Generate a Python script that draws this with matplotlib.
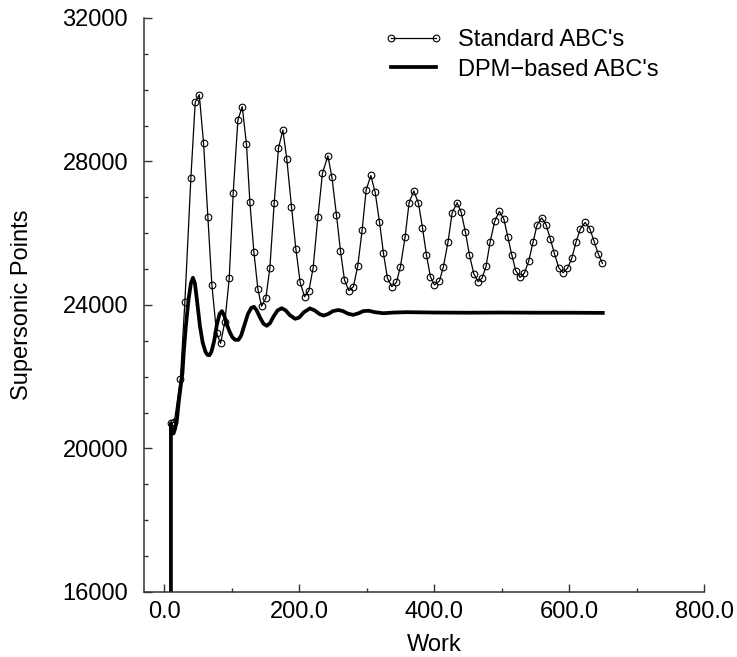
import matplotlib.pyplot as plt
from matplotlib.ticker import MultipleLocator, FormatStrFormatter

plt.rcParams['font.family'] = ['Liberation Sans', 'DejaVu Sans']

# Standard ABC's (open circles)
work_std = [9.5, 9.5, 15.0, 24.0, 30.6, 39.5, 45.9, 51.9, 58.3, 64.7, 70.6, 77.5, 83.5, 89.9,
            96.3, 102.2, 109.2, 115.6, 121.9, 126.9, 132.8, 138.8, 144.2, 150.6, 156.5,
            163.0, 169.3, 175.8, 181.7, 188.6, 195.1, 201.5, 207.9, 214.4, 220.7, 227.7,
            234.5, 242.5, 248.4, 255.3, 261.2, 267.1, 273.6, 280.4, 286.9, 293.3, 299.3,
            306.2, 312.6, 319.0, 324.9, 330.8, 337.3, 344.1, 350.1, 357.0, 362.9, 369.8,
            376.8, 382.7, 388.6, 394.5, 400.5, 407.9, 413.8, 420.7, 426.7, 434.1, 440.0,
            446.4, 452.3, 458.8, 465.2, 471.1, 477.0, 483.0, 489.9, 496.7, 503.3, 509.2,
            515.1, 521.0, 527.4, 533.8, 540.3, 546.7, 552.6, 559.5, 565.9, 572.3, 578.2,
            584.7, 591.1, 597.5, 604.0, 610.4, 616.7, 623.7, 630.7, 637.0, 643.4, 649.4]
pts_std = [0, 20700, 20740, 21950, 24090, 27550, 29650, 29860, 28510, 26440, 24560, 23230,
           22930, 23540, 24740, 27120, 29160, 29530, 28480, 26870, 25490, 24440, 23965,
           24190, 25020, 26850, 28370, 28880, 28060, 26740, 25560, 24630, 24230, 24400,
           25040, 26440, 27670, 28160, 27580, 26500, 25510, 24700, 24400, 24510, 25100,
           26090, 27210, 27610, 27140, 26320, 25440, 24750, 24510, 24630, 25070, 25900,
           26850, 27180, 26840, 26160, 25400, 24790, 24560, 24670, 25070, 25770, 26570,
           26850, 26590, 26030, 25400, 24870, 24650, 24750, 25080, 25760, 26340, 26610,
           26400, 25900, 25400, 24960, 24770, 24890, 25230, 25760, 26230, 26430, 26240,
           25840, 25440, 25040, 24900, 25020, 25300, 25760, 26120, 26300, 26130, 25780,
           25420, 25160]

# DPM-based ABC's (thick line)
work_dpm = [9.9, 9.9, 11.0, 13.8, 16.0, 18.8, 21.5, 24.5, 27.0, 29.0, 32.0, 36.0, 39.5, 42.5,
            45.5, 49.0, 53.0, 57.0, 61.0, 64.0, 67.0, 70.0, 74.0, 78.0, 82.0, 85.5, 89.0,
            93.0, 97.0, 101.0, 105.0, 110.0, 114.0, 119.0, 124.0, 129.0, 133.0, 137.0,
            142.0, 147.0, 152.0, 157.0, 162.0, 168.0, 174.0, 180.0, 186.0, 194.0, 200.0,
            207.0, 216.0, 223.0, 230.0, 236.0, 243.0, 250.0, 258.0, 265.0, 272.0, 280.0,
            288.0, 295.0, 303.0, 312.0, 325.0, 340.0, 360.0, 380.0, 400.0, 450.0, 500.0,
            550.0, 600.0, 650.0]
pts_dpm = [0, 20700, 20500, 20420, 20550, 20800, 21300, 21750, 22100, 22700, 23400, 24150,
           24600, 24760, 24600, 24050, 23400, 22950, 22700, 22610, 22600, 22700, 23000,
           23450, 23750, 23830, 23700, 23450, 23250, 23100, 23030, 23030, 23150, 23450,
           23750, 23920, 23950, 23850, 23650, 23480, 23420, 23500, 23680, 23850, 23910,
           23850, 23720, 23615, 23650, 23800, 23905, 23850, 23750, 23705, 23750, 23830,
           23860, 23830, 23760, 23725, 23770, 23830, 23840, 23800, 23770, 23790, 23800,
           23795, 23790, 23785, 23790, 23785, 23785, 23780]

fig = plt.figure(figsize=(7.37, 6.57), dpi=100)
ax = fig.add_axes([144/737, 1 - 592/657, 560/737, 574/657])

ax.plot(work_std, pts_std, color='black', lw=0.9, marker='o', ms=4.8,
        mfc='none', mec='black', mew=0.8, label="Standard ABC's")
ax.plot(work_dpm, pts_dpm, color='black', lw=2.7, label="DPM\u2212based ABC's")

ax.set_xlim(-30, 800)
ax.set_ylim(16000, 32000)
ax.xaxis.set_major_locator(MultipleLocator(200))
ax.xaxis.set_minor_locator(MultipleLocator(100))
ax.xaxis.set_major_formatter(FormatStrFormatter('%.1f'))
ax.yaxis.set_major_locator(MultipleLocator(4000))
ax.yaxis.set_minor_locator(MultipleLocator(1000))

for s in ['top', 'right']:
    ax.spines[s].set_visible(False)
for s in ['left', 'bottom']:
    ax.spines[s].set_linewidth(1.1)
    ax.spines[s].set_color('#333333')

ax.tick_params(which='both', direction='in', labelsize=17, color='#333333')
ax.tick_params(which='major', length=6, width=1)
ax.tick_params(which='minor', length=3, width=1)
ax.tick_params(axis='y', pad=11.5)
ax.tick_params(axis='x', pad=6.5)

ax.set_xlabel('Work', fontsize=17)
ax.set_ylabel('Supersonic Points', fontsize=17)
ax.xaxis.set_label_coords(0.518, -0.073)
ax.yaxis.set_label_coords(-0.198, 0.5)

ax.legend(loc='upper left', bbox_to_anchor=(384/737, 1 - 29/657),
          bbox_transform=fig.transFigure, frameon=False, fontsize=17,
          numpoints=2, handlelength=2.5, handletextpad=0.64, labelspacing=0.32,
          borderpad=0, borderaxespad=0)

fig.savefig('out.png', dpi=100)
